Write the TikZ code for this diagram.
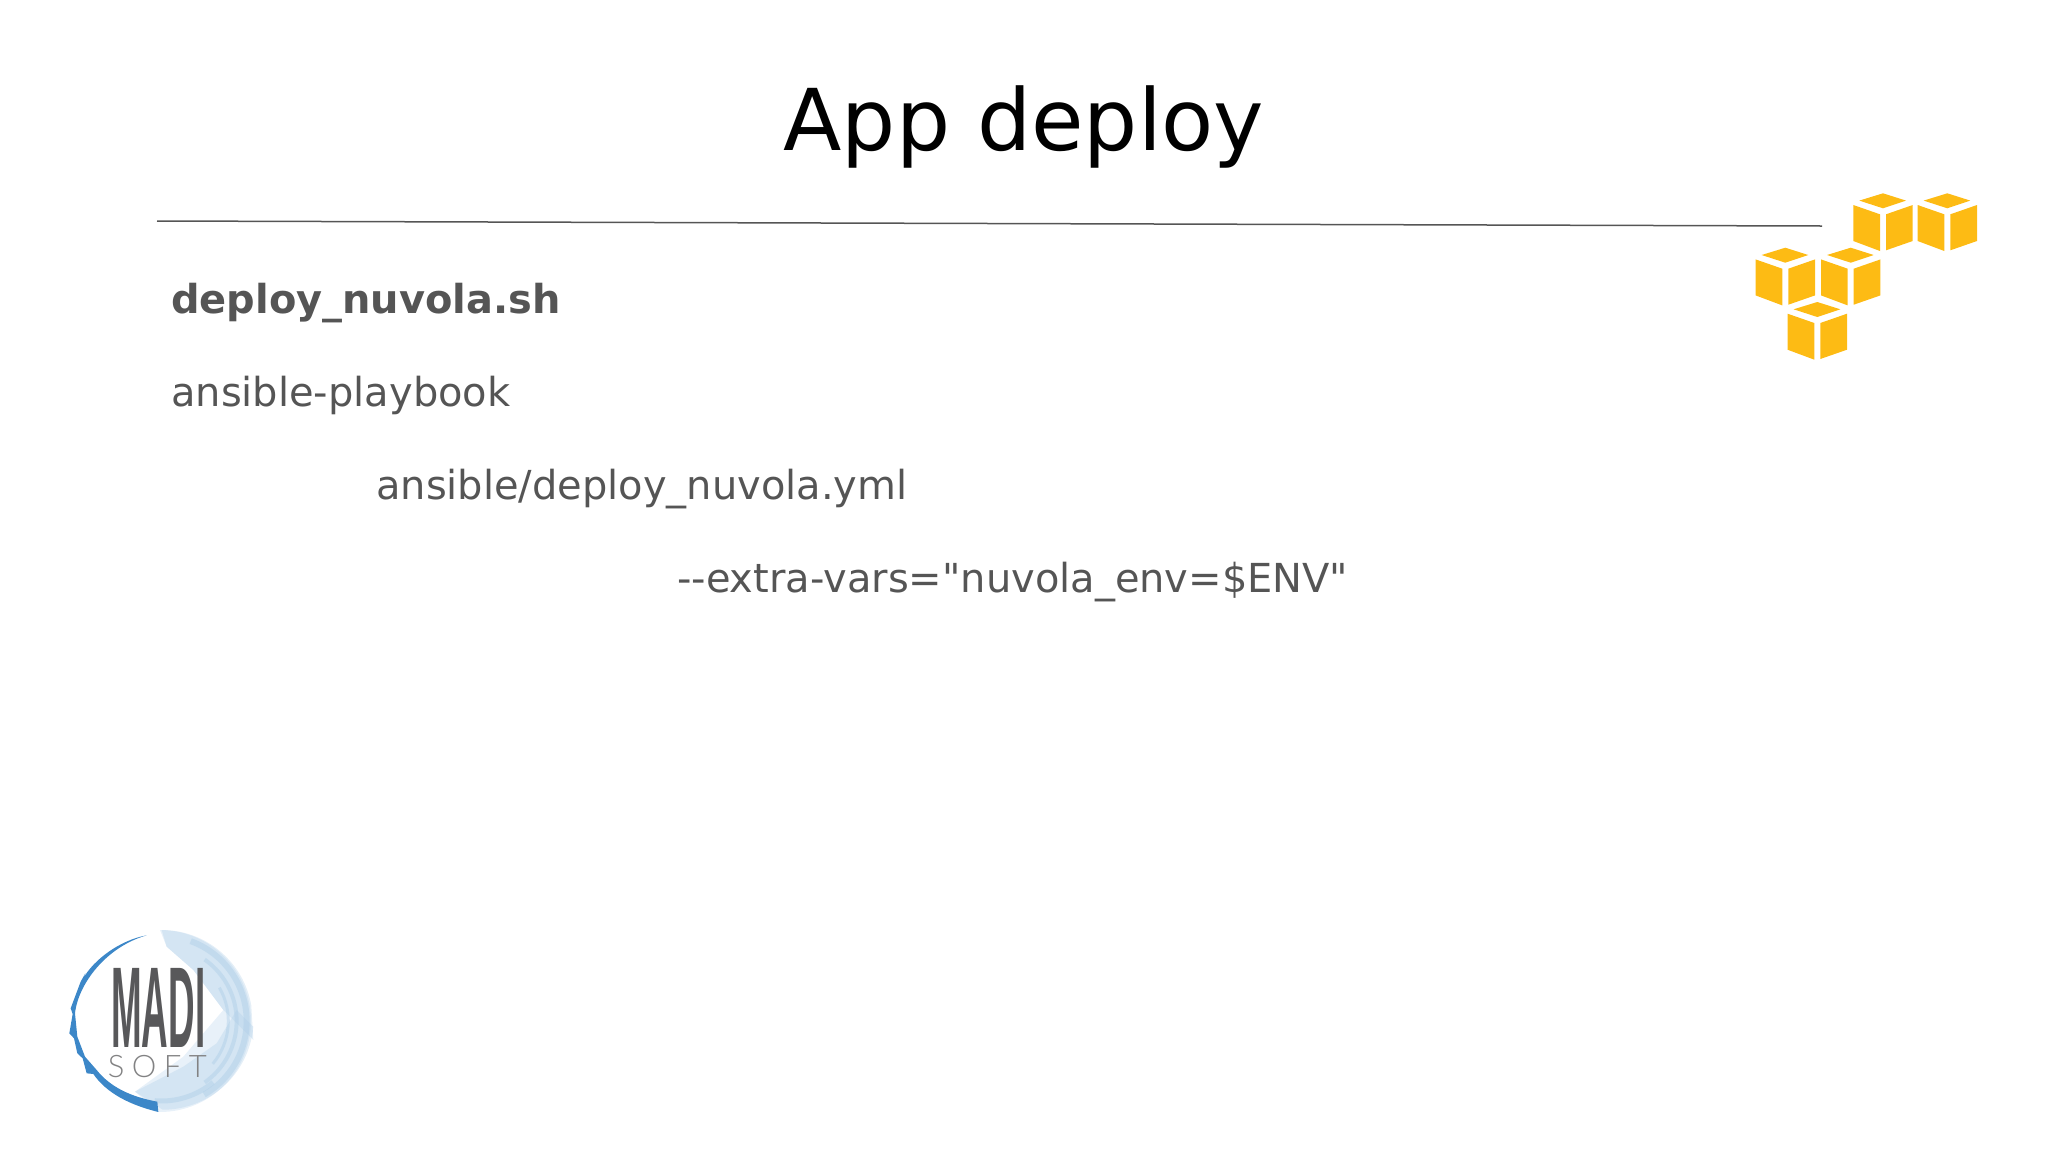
\documentclass[tikz,border=0pt]{standalone}
\usepackage{fontspec}
\setmainfont{DejaVu Sans}
\newfontfamily\rawfont{DejaVu Sans}
\newfontfamily\logofont{Liberation Sans}
\newfontfamily\softfont{Lato Light}
\definecolor{bodygray}{HTML}{555555}
\definecolor{awsyellow}{HTML}{FDBB14}
\definecolor{logodark}{HTML}{3C87C8}
\definecolor{logoink}{HTML}{58585A}
\definecolor{washa}{HTML}{E8F1F9}
\definecolor{washb}{HTML}{C4DBEE}
\definecolor{washc}{HTML}{A9CBE6}
\tikzset{
  bodytext/.style={anchor=base west,inner sep=0pt,text=bodygray,font=\fontsize{39.95}{40}\selectfont},
  face/.style={fill=awsyellow,draw=none},
  wash/.style={draw=washc,opacity=.4},
  pics/awscube/.style={code={
    \fill[face] (-23.7,7.3) -- (0,0) -- (23,7.3) -- (0,15) -- cycle;
    \fill[face] (-29.7,11.7) -- (-3,21) -- (-3,57.7) -- (-29.7,47.7) -- cycle;
    \fill[face] (3,21) -- (29.7,11.7) -- (29.7,47.7) -- (3,57) -- cycle;
  }}
}
\begin{document}
\begin{tikzpicture}[x=1pt,y=-1pt]
\useasboundingbox (0,0) rectangle (2048,1152);
\node[anchor=base,inner sep=0pt,font=\fontsize{85.3}{86}\selectfont] (title) at (1024,150) {App deploy};
\coordinate (ruleL) at (157,221);
\coordinate (ruleR) at (1822,226);
\draw[line width=1.5pt,draw=bodygray] (ruleL) -- (ruleR);
\node[bodytext,font=\fontsize{39.9}{40}\selectfont\bfseries] (script) at (171,313) {deploy\_nuvola.sh};
\node[bodytext] (cmd) at (171,406) {ansible-playbook};
\node[bodytext] (play) at (376,499) {ansible/deploy\_nuvola.yml};
\node[bodytext] (vars) at (677,592) {\rawfont --extra-vars="nuvola\_env=\$ENV"};
% AWS cubes
\pic at (1883,193.3) {awscube};
\pic at (1947.3,193.3) {awscube};
\pic at (1785.3,247.7) {awscube};
\pic at (1850.7,247.7) {awscube};
\pic at (1817.3,302) {awscube};
% logo, zoom coordinates
\begin{scope}[shift={(50,910)},x=0.3333pt,y=-0.3333pt]
  \fill[washa] (330,60) arc[start angle=-90,end angle=90,radius=273]
     -- (325,606) -- (255,545) -- (400,440) -- (520,300) -- (430,180) -- (350,110) -- cycle;
  \fill[washc,opacity=.3] (335,60) arc[start angle=-90,end angle=-10,radius=273]
     -- (610,390) -- (520,300) -- (430,180) -- (350,110) -- cycle;
  \fill[washc,opacity=.3] (610,350) arc[start angle=5,end angle=90,radius=273]
     -- (255,545) -- (400,470) -- (500,400) -- (560,300) -- cycle;
  \draw[wash,line width=6pt] (335,333) ++(-70:255) arc[start angle=-70,end angle=60,radius=255];
  \draw[wash,line width=4pt] (335,333) ++(-55:225) arc[start angle=-55,end angle=55,radius=225];
  \draw[wash,line width=3pt] (335,333) ++(-30:200) arc[start angle=-30,end angle=40,radius=200];
  \draw[wash,line width=5pt] (335,333) ++(50:240) arc[start angle=50,end angle=95,radius=240];
  \fill[logodark] (290,76) .. controls (210,90) and (130,150) .. (100,205)
     -- (106,190) -- (92,215) -- (62,295) -- (68,312) -- (58,370) -- (72,385) -- (82,430) -- (98,445) -- (110,490)
     -- (130,492) .. controls (170,550) and (240,585) .. (325,606)
     -- (322,575) .. controls (240,560) and (180,530) .. (140,480)
     -- (105,440) -- (82,380) -- (75,310) .. controls (85,220) and (170,110) .. (290,76) -- cycle;
  \node[inner sep=0pt,text=logoink] (madi) at (325,294)
     {\scalebox{0.32}[1]{\logofont\bfseries\fontsize{115}{115}\selectfont MADI}};
  \node[inner sep=0pt,text=logoink!75] (soft) at (322,469)
     {\softfont\fontsize{31}{31}\selectfont S\hspace{7.5pt}O\hspace{7.5pt}F\hspace{7.5pt}T};
\end{scope}
\end{tikzpicture}
\end{document}
